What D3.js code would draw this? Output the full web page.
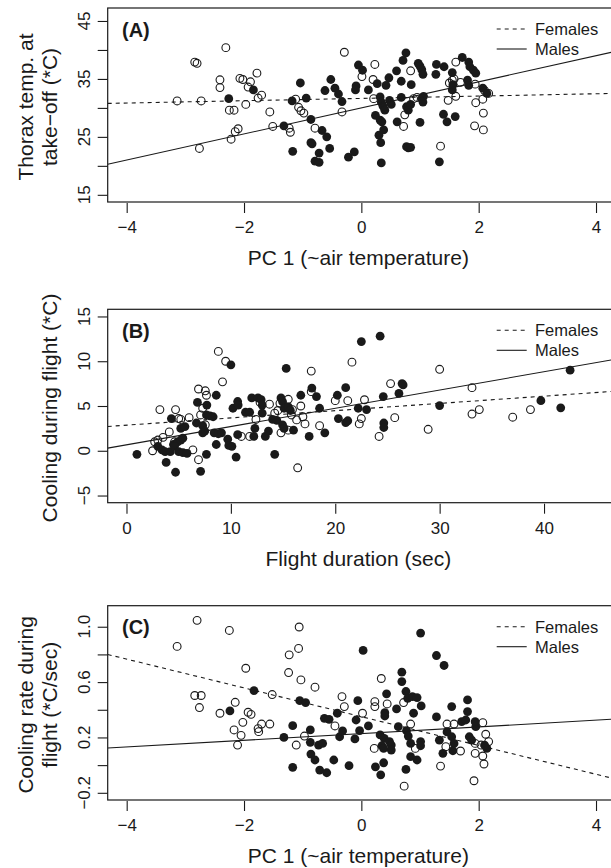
<!DOCTYPE html>
<html>
<head>
<meta charset="utf-8">
<script src="https://cdn.jsdelivr.net/npm/d3@7"></script>
<style>
  body { margin: 0; background: #fff; }
  svg { display: block; font-family: "Liberation Sans", Arial, sans-serif; }
</style>
</head>
<body>
<svg id="chart" width="611" height="868"></svg>
<script>
// Panel A : temperature du thorax au decollage vs PC1
const aFemales = [[-2.31,40.4],[-2.84,37.9],[-2.80,37.7],[-2.41,34.85],[-2.41,33.5],[-3.14,31.2],[-2.73,31.2],[-2.25,29.6],[-2.17,29.6],[-1.97,30.6],[-2.10,26.4],[-2.15,25.9],[-2.22,24.6],[-2.76,23.0],[-2.07,35.1],[-2.02,34.9],[-1.93,33.6],[-1.89,34.5],[-1.78,36.0],[-1.70,32.2],[-1.76,31.7],[-1.56,29.3],[-1.51,26.8],[-1.23,26.5],[-1.21,25.8],[-1.12,31.5],[-1.07,30.1],[-1.03,29.5],[-0.98,29.1],[-0.79,26.5],[-0.33,29.3],[-0.29,39.6],[0.01,35.4],[0.23,37.5],[0.20,34.9],[0.21,31.6],[0.72,26.8],[0.74,28.8],[0.84,36.4],[0.89,31.6],[0.95,31.8],[1.35,23.4],[1.48,31.3],[1.50,34.3],[1.55,34.8],[1.58,35.0],[1.61,37.9],[1.61,32.0],[1.69,34.4],[1.94,34.1],[1.95,30.9],[1.93,26.9],[2.07,31.5],[2.08,29.1],[2.08,26.2],[2.17,32.5],[2.10,33.0]];
const aMales = [[-2.26,31.6],[-1.84,33.1],[-1.32,26.9],[-1.18,31.2],[-0.94,31.7],[-1.04,34.3],[-0.86,28.0],[-0.67,26.1],[-0.59,25.0],[-0.86,24.0],[-0.84,23.8],[-1.17,22.5],[-0.72,22.2],[-0.79,20.8],[-0.72,20.6],[-0.54,23.0],[-0.62,33.0],[-0.52,34.9],[-0.45,33.4],[-0.39,32.4],[-0.33,31.1],[-0.22,21.5],[-0.12,22.4],[-0.09,33.8],[-0.10,33.1],[-0.05,37.4],[0.02,36.5],[0.12,33.1],[0.27,34.2],[0.32,31.9],[0.34,31.0],[0.37,30.3],[0.40,29.6],[0.24,28.7],[0.32,27.9],[0.35,27.6],[0.30,25.3],[0.33,24.0],[0.38,26.2],[0.34,20.5],[0.42,33.9],[0.47,35.2],[0.48,31.3],[0.51,30.6],[0.60,36.4],[0.61,27.6],[0.68,34.6],[0.68,31.8],[0.71,38.2],[0.76,39.5],[0.77,30.2],[0.80,29.6],[0.84,30.6],[0.77,23.3],[0.80,23.1],[0.84,23.2],[0.85,34.0],[0.97,37.7],[1.00,37.2],[1.03,36.6],[1.05,35.8],[1.00,27.5],[1.03,31.6],[1.05,31.0],[1.06,32.0],[1.28,37.5],[1.27,35.8],[1.33,20.7],[1.41,37.1],[1.40,28.9],[1.46,27.6],[1.55,33.1],[1.56,34.0],[1.55,36.1],[1.60,28.5],[1.72,38.7],[1.83,37.9],[1.85,37.1],[1.81,34.8],[1.83,33.9],[1.91,36.5],[1.95,36.0],[2.07,33.4],[2.14,32.5]];

// Panel B : refroidissement vs duree du vol
const bFemales = [[2.5,0.0],[2.7,1.0],[3.0,1.2],[3.5,1.5],[3.2,4.6],[4.7,4.6],[5.2,3.5],[5.0,3.6],[6.0,3.7],[4.1,2.1],[4.6,1.0],[6.9,6.9],[7.55,6.7],[7.66,6.2],[7.3,4.75],[7.1,4.0],[7.55,2.9],[6.9,-1.0],[6.36,0.1],[8.8,11.1],[9.5,10.0],[9.2,7.7],[11.0,1.6],[11.8,1.6],[12.4,3.5],[12.8,5.4],[13.7,5.2],[14.2,4.2],[14.7,5.3],[14.5,4.5],[14.8,2.0],[15.5,2.3],[15.5,5.75],[15.8,4.0],[15.9,4.6],[16.3,3.45],[16.4,-1.9],[16.7,5.0],[16.9,3.8],[17.1,3.0],[17.7,6.6],[17.7,8.9],[18.5,2.8],[20.0,5.6],[21.2,5.6],[21.6,9.9],[22.3,3.0],[22.5,3.6],[22.8,5.7],[24.2,1.6],[25.3,7.5],[25.7,3.7],[28.9,2.4],[30.0,9.1],[33.1,7.05],[33.1,4.1],[33.8,4.6],[37.0,3.75],[38.7,4.6]];
const bMales = [[1.0,-0.4],[4.3,3.6],[3.0,0.5],[3.4,0.1],[3.7,-0.1],[4.2,-0.1],[4.5,0.7],[4.9,1.0],[5.2,1.2],[5.4,1.4],[4.6,0.5],[5.0,-0.1],[5.4,-0.2],[5.8,-0.3],[3.8,-1.3],[4.7,-2.4],[5.2,2.5],[5.6,2.7],[6.8,5.4],[7.7,5.1],[7.66,4.0],[8.0,3.9],[8.3,3.8],[6.7,3.1],[7.3,2.8],[7.5,2.2],[7.3,2.0],[7.1,-2.3],[7.66,-0.4],[8.6,6.2],[10.0,9.6],[8.4,2.0],[8.8,1.9],[9.1,2.0],[8.6,0.7],[9.7,1.3],[9.8,0.6],[10.5,-0.7],[10.1,0.5],[10.2,4.75],[10.65,5.5],[10.7,5.1],[10.65,1.8],[12.0,5.9],[12.2,1.6],[12.3,2.5],[11.4,4.3],[11.8,4.3],[12.6,5.9],[12.9,5.7],[13.0,5.1],[13.0,4.2],[13.3,1.6],[13.6,2.2],[14.0,3.5],[14.4,3.4],[14.2,-0.4],[14.8,5.9],[14.95,5.5],[15.1,4.75],[15.3,9.2],[14.95,2.9],[15.1,2.5],[15.5,4.9],[15.7,4.5],[16.0,2.3],[16.7,6.2],[17.5,1.6],[17.76,7.0],[18.2,6.05],[18.5,4.75],[19.0,2.0],[20.2,6.2],[20.3,3.6],[21.0,7.05],[21.0,3.15],[21.2,3.35],[22.5,12.2],[22.2,4.75],[23.0,4.6],[24.3,12.8],[24.6,6.05],[24.65,3.1],[24.65,2.6],[26.1,6.4],[26.4,7.5],[26.5,7.35],[30.0,5.05],[39.7,5.6],[41.6,4.8],[42.5,9.0]];

// Panel C : taux de refroidissement vs PC1
const cFemales = [[-2.80,1.046],[-2.25,0.973],[-3.14,0.858],[-1.06,0.998],[-1.23,0.797],[-1.07,0.843],[-1.97,0.70],[-1.24,0.669],[-1.03,0.616],[-0.79,0.563],[-1.52,0.51],[-2.84,0.503],[-2.73,0.503],[-2.76,0.416],[-2.15,0.454],[-2.41,0.375],[-1.93,0.382],[-1.88,0.367],[-2.02,0.309],[-1.70,0.297],[-1.56,0.297],[-2.17,0.254],[-2.05,0.215],[-1.76,0.264],[-1.75,0.242],[-2.11,0.145],[-0.97,0.21],[-1.11,0.145],[-0.33,0.495],[-0.29,0.423],[-0.45,0.283],[0.02,0.375],[0.22,0.121],[0.23,0.459],[0.23,0.423],[0.44,0.442],[0.34,0.626],[0.72,0.452],[0.73,-0.152],[0.84,0.297],[0.92,0.121],[1.35,-0.007],[1.46,0.297],[1.44,0.133],[1.58,0.297],[1.69,0.102],[1.94,0.157],[1.94,0.085],[1.92,-0.113],[2.07,0.307],[2.12,0.223],[2.17,0.17],[2.07,0.066],[2.09,0.008],[2.04,0.145]];
const cMales = [[-1.83,0.539],[-2.24,0.392],[-1.05,0.466],[-0.95,0.452],[-1.32,0.20],[-1.17,0.285],[-0.87,0.254],[-0.87,0.165],[-0.73,0.145],[-0.66,0.157],[-0.86,0.08],[-0.79,0.037],[-1.17,-0.016],[-0.71,-0.036],[-0.59,-0.055],[-0.47,0.037],[-0.63,0.338],[-0.55,0.331],[-0.41,0.375],[-0.37,0.205],[-0.32,0.247],[-0.21,-0.004],[-0.06,0.466],[-0.09,0.326],[-0.11,0.189],[-0.03,0.249],[0.03,0.829],[0.12,0.283],[0.24,-0.012],[0.32,0.218],[0.39,0.194],[0.35,0.14],[0.38,0.121],[0.40,0.379],[0.40,0.355],[0.43,0.515],[0.38,0.017],[0.33,-0.07],[0.48,0.17],[0.51,0.145],[0.51,0.109],[0.60,0.406],[0.63,0.278],[0.69,0.672],[0.69,0.604],[0.76,0.532],[0.79,0.483],[0.76,-0.031],[0.77,0.249],[0.80,0.21],[0.84,0.157],[0.87,0.495],[0.95,0.488],[0.89,0.375],[1.02,0.428],[0.84,0.061],[0.95,0.037],[1.01,0.954],[1.01,0.17],[1.01,0.14],[1.28,0.792],[1.41,0.72],[1.28,0.348],[1.33,0.18],[1.39,0.085],[1.54,0.423],[1.46,0.24],[1.54,0.205],[1.58,0.157],[1.56,0.104],[1.71,0.314],[1.78,0.326],[1.81,0.471],[1.81,0.387],[1.84,0.205],[1.88,0.18],[1.95,0.278],[1.94,0.314],[2.14,0.121],[2.10,0.145]];

// droites de regression : [ordonnee a l'origine, pente]
const aFits = { females: [31.64, 0.2], males: [30.0, 2.25] };
const bFits = { females: [2.86, 0.081], males: [0.667, 0.204] };
const cFits = { females: [0.35, -0.104], males: [0.228, 0.0242] };

// axes
const pcTicks = [-4, -2, 0, 2, 4];
const durationTicks = [0, 10, 20, 30, 40];
const aYTicks = [15, 20, 25, 30, 35, 40, 45];
const aYLabels = [15, 25, 35, 45];
const bYTicks = [-5, 0, 5, 10, 15];
const bYLabels = [-5, 0, 5, 10, 15];
const cYTicks = [-0.2, 0, 0.2, 0.4, 0.6, 0.8, 1.0];
const cYLabels = [-0.2, 0.2, 0.6, 1.0];

const legendLabels = ['Females', 'Males'];

const panels = [
    { tag: '(A)', top: 8, bottom: 202, xDomain: [-4.3236, 4.3236], yDomain: [13.76, 47.24],
      xTicks: pcTicks, yTicks: aYTicks, yLabels: aYLabels, yFmt: d3.format('d'),
      females: aFemales, males: aMales, fits: aFits,
      xTitle: 'PC 1 (~air temperature)', yTitle: ['Thorax temp. at', 'take\u2212off (*C)'] },
    { tag: '(B)', top: 309.3, bottom: 502.7, xDomain: [-1.8, 46.8], yDomain: [-5.8, 15.8],
      xTicks: durationTicks, yTicks: bYTicks, yLabels: bYLabels, yFmt: d3.format('d'),
      females: bFemales, males: bMales, fits: bFits,
      xTitle: 'Flight duration (sec)', yTitle: ['Cooling during flight (*C)'] },
    { tag: '(C)', top: 605.7, bottom: 800, xDomain: [-4.3236, 4.3236], yDomain: [-0.252, 1.152],
      xTicks: pcTicks, yTicks: cYTicks, yLabels: cYLabels, yFmt: d3.format('.1f'),
      females: cFemales, males: cMales, fits: cFits,
      xTitle: 'PC 1 (~air temperature)', yTitle: ['Cooling rate during', 'flight (*C/sec)'] }
];

const svg = d3.select('#chart');
const left = 107.7;
const right = 615;
const ink = '#1a1a1a';
const minus = s => s.replace('-', '\u2212');

panels.forEach((p, i) => {
    const x = d3.scaleLinear().domain(p.xDomain).range([left, right]);
    const y = d3.scaleLinear().domain(p.yDomain).range([p.bottom, p.top]);
    const g = svg.append('g');

    g.append('clipPath').attr('id', 'clip' + i)
        .append('rect')
        .attr('x', left).attr('y', p.top)
        .attr('width', right - left).attr('height', p.bottom - p.top);

    // points
    g.selectAll('.fem').data(p.females).enter().append('circle')
        .attr('cx', d => x(d[0])).attr('cy', d => y(d[1]))
        .attr('r', 3.9)
        .attr('fill', 'none').attr('stroke', ink).attr('stroke-width', 1.1);

    g.selectAll('.male').data(p.males).enter().append('circle')
        .attr('cx', d => x(d[0])).attr('cy', d => y(d[1]))
        .attr('r', 4.4)
        .attr('fill', ink);

    // droites
    const lines = g.append('g').attr('clip-path', `url(#clip${i})`);
    [['females', '4,4'], ['males', null]].forEach(([key, dash]) => {
        const [a, b] = p.fits[key];
        lines.append('line')
            .attr('x1', x(p.xDomain[0])).attr('y1', y(a + b * p.xDomain[0]))
            .attr('x2', x(p.xDomain[1])).attr('y2', y(a + b * p.xDomain[1]))
            .attr('stroke', ink).attr('stroke-width', 1.1)
            .attr('stroke-dasharray', dash);
    });

    // cadre
    g.append('rect')
        .attr('x', left).attr('y', p.top)
        .attr('width', right - left).attr('height', p.bottom - p.top)
        .attr('fill', 'none').attr('stroke', ink).attr('stroke-width', 1.2);

    // axe x
    const xAxis = d3.axisBottom(x).tickValues(p.xTicks).tickSize(10).tickPadding(6)
        .tickFormat(d => minus(String(d)));
    const gx = g.append('g').attr('transform', `translate(0,${p.bottom + 1})`).call(xAxis);
    gx.select('.domain').remove();
    gx.selectAll('line').attr('stroke', ink).attr('stroke-width', 1.1);
    gx.selectAll('text').attr('font-size', 17).attr('fill', ink).attr('dy', null)
        .attr('y', 30);

    // axe y (etiquettes verticales comme R)
    const yAxis = d3.axisLeft(y).tickValues(p.yTicks).tickSize(10).tickFormat('');
    const gy = g.append('g').attr('transform', `translate(${left},0)`).call(yAxis);
    gy.select('.domain').remove();
    gy.selectAll('line').attr('stroke', ink).attr('stroke-width', 1.1);
    g.selectAll('.ylab').data(p.yLabels).enter().append('text')
        .attr('transform', d => `translate(90,${y(d)}) rotate(-90)`)
        .attr('text-anchor', 'middle')
        .attr('font-size', 17).attr('fill', ink)
        .text(d => minus(p.yFmt(d)));

    // titres
    g.append('text')
        .attr('x', (left + 613) / 2 - 2).attr('y', p.bottom + 63)
        .attr('text-anchor', 'middle').attr('font-size', 21).attr('fill', ink)
        .text(p.xTitle);

    const cy = (p.top + p.bottom) / 2 + 2;
    p.yTitle.forEach((t, k) => {
        const bx = 56.5 - (p.yTitle.length - 1 - k) * 24;
        g.append('text')
            .attr('transform', `translate(${bx},${cy}) rotate(-90)`)
            .attr('text-anchor', 'middle').attr('font-size', 21).attr('fill', ink)
            .text(t);
    });

    g.append('text')
        .attr('x', 122).attr('y', p.top + 28.6)
        .attr('font-size', 20).attr('font-weight', 'bold').attr('fill', ink)
        .text(p.tag);

    // legende
    legendLabels.forEach((lab, k) => {
        const ly = p.top + 21 + k * 20;
        g.append('line')
            .attr('x1', 496.7).attr('x2', 526.7).attr('y1', ly).attr('y2', ly)
            .attr('stroke', ink).attr('stroke-width', 1.1)
            .attr('stroke-dasharray', k === 0 ? '4,4' : null);
        g.append('text')
            .attr('x', 535).attr('y', ly + 6)
            .attr('font-size', 16.5).attr('fill', ink)
            .text(lab);
    });
});
</script>
</body>
</html>
